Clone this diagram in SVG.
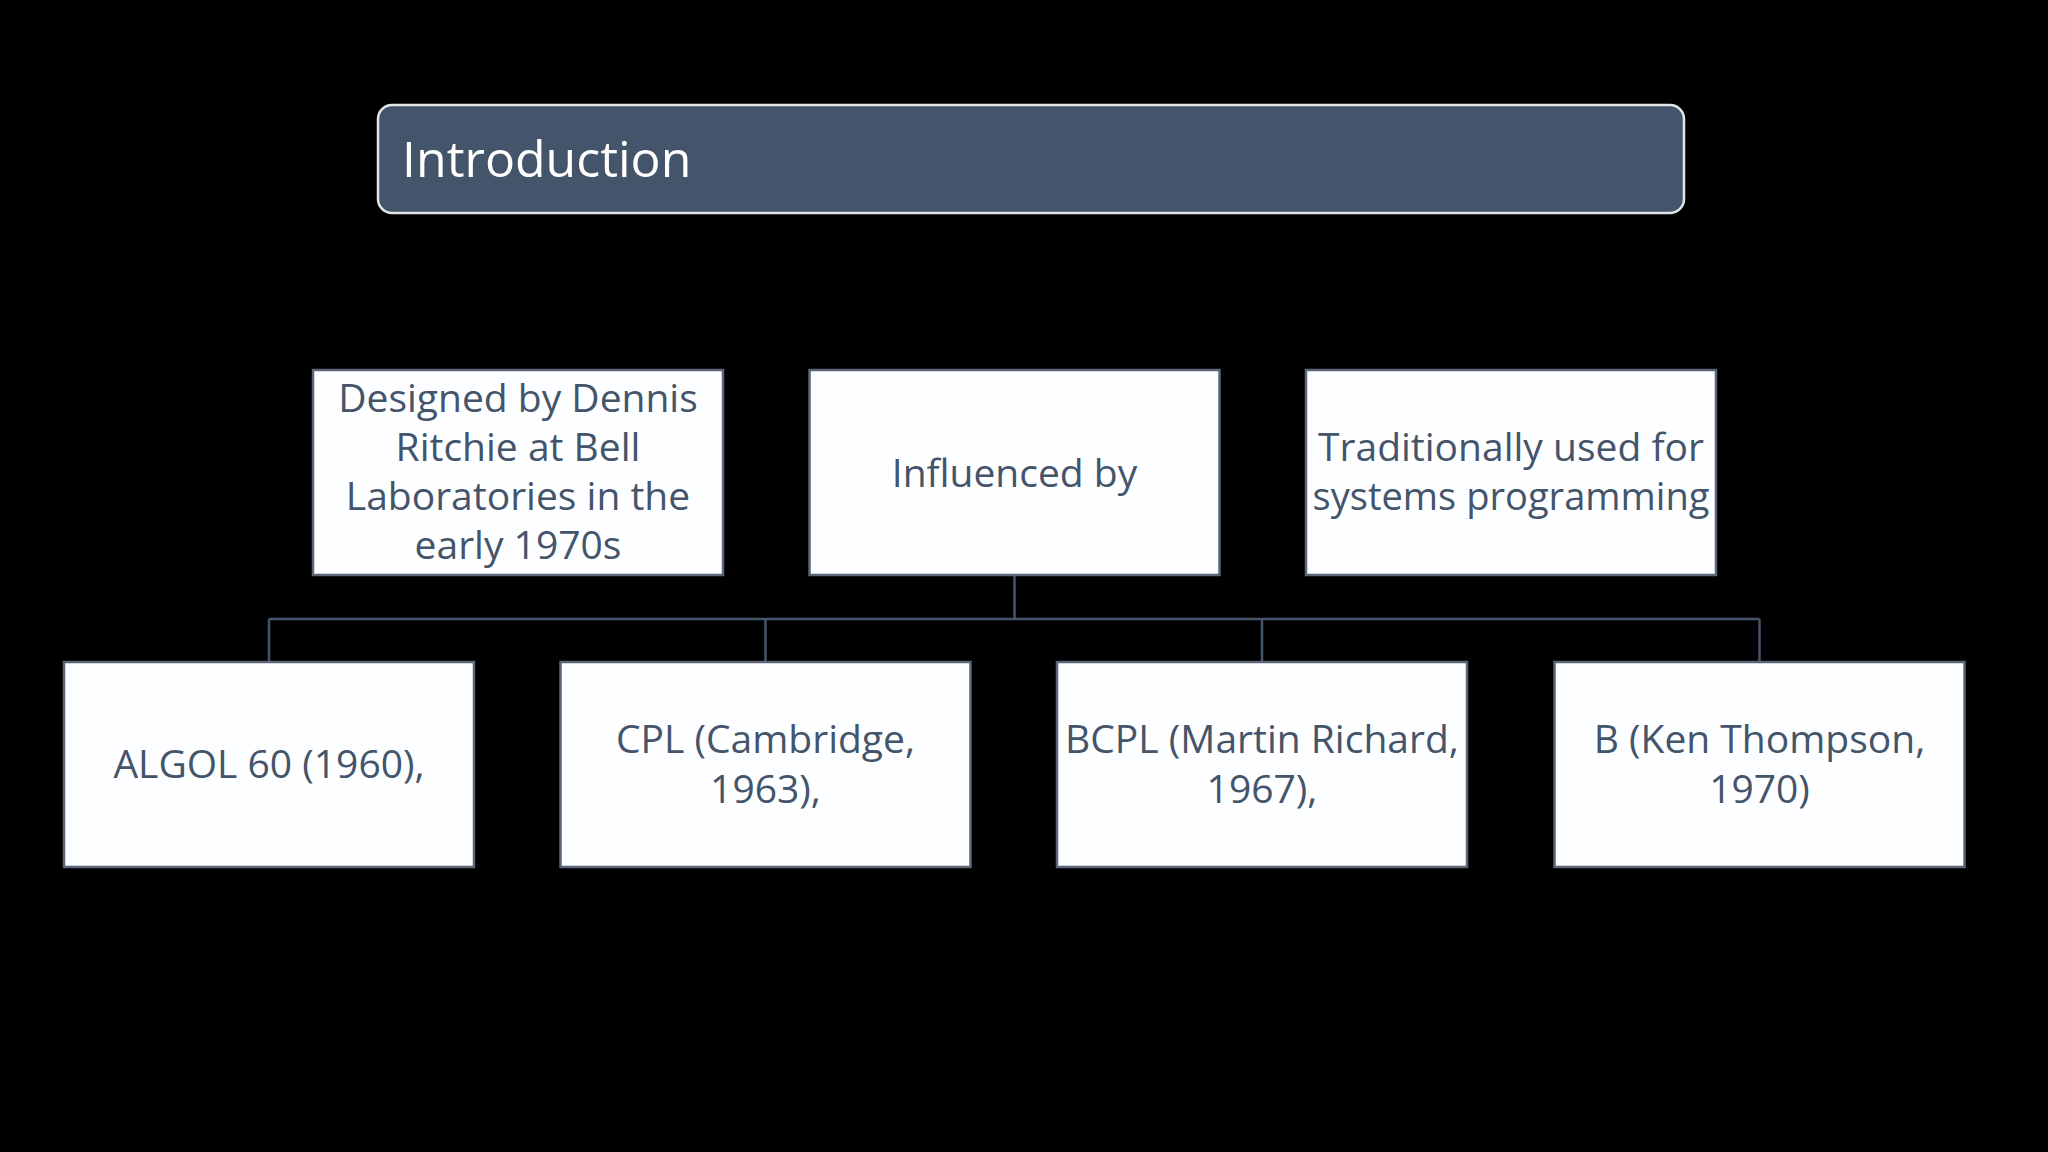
<svg xmlns="http://www.w3.org/2000/svg" width="2048" height="1152" viewBox="0 0 2048 1152">
<style>
.box{fill:#fdfeff;stroke:#5b6577;stroke-width:2.5}
.t{font-family:"Open Sans","Noto Sans",sans-serif;font-size:39px;fill:#44546a;text-anchor:middle}
.conn{fill:none;stroke:#44546a;stroke-width:2.5}
</style>
<rect x="0" y="0" width="2048" height="1152" fill="#000"/>
<g id="title">
<rect x="378" y="105" width="1306" height="108" rx="14" ry="14" fill="#44546a" stroke="#e2e4e8" stroke-width="2.5"/>
<text x="402" y="177" font-family="'Open Sans','Noto Sans',sans-serif" font-size="50" fill="#ffffff">Introduction</text>
</g>
<g id="connectors">
<path class="conn" d="M1014.5 575 V619 M269 619 H1759.5 M269 619 V662 M765.5 619 V662 M1262 619 V662 M1759.5 619 V662"/>
</g>
<g id="designed">
<rect class="box" x="313" y="370" width="410" height="205"/>
<text class="t" x="518" y="412">Designed by Dennis</text>
<text class="t" x="518" y="461">Ritchie at Bell</text>
<text class="t" x="518" y="510">Laboratories in the</text>
<text class="t" x="518" y="559">early 1970s</text>
</g>
<g id="influenced">
<rect class="box" x="809.5" y="370" width="410" height="205"/>
<text class="t" x="1014.5" y="487">Influenced by</text>
</g>
<g id="traditionally">
<rect class="box" x="1306" y="370" width="410" height="205"/>
<text class="t" x="1511" y="461">Traditionally used for</text>
<text class="t" x="1511" y="510" textLength="397" lengthAdjust="spacingAndGlyphs">systems programming</text>
</g>
<g id="algol">
<rect class="box" x="64" y="662" width="410" height="205"/>
<text class="t" x="269" y="778">ALGOL 60 (1960),</text>
</g>
<g id="cpl">
<rect class="box" x="560.5" y="662" width="410" height="205"/>
<text class="t" x="765.5" y="753">CPL (Cambridge,</text>
<text class="t" x="765.5" y="803">1963),</text>
</g>
<g id="bcpl">
<rect class="box" x="1057" y="662" width="410" height="205"/>
<text class="t" x="1262" y="753">BCPL (Martin Richard,</text>
<text class="t" x="1262" y="803">1967),</text>
</g>
<g id="b">
<rect class="box" x="1554.5" y="662" width="410" height="205"/>
<text class="t" x="1759.5" y="753">B (Ken Thompson,</text>
<text class="t" x="1759.5" y="803">1970)</text>
</g>
</svg>
